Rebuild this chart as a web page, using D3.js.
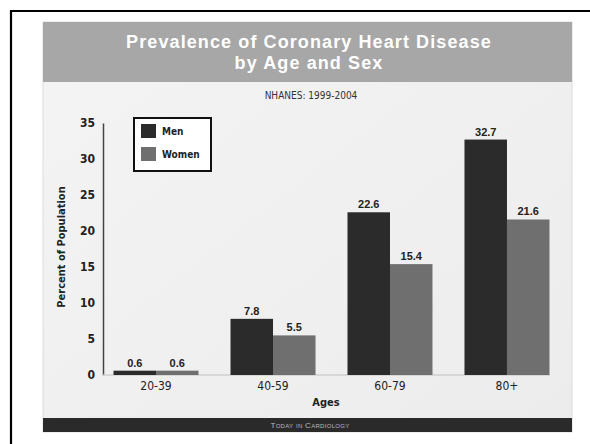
<!DOCTYPE html>
<html><head><meta charset="utf-8">
<script src="https://cdn.jsdelivr.net/npm/d3@7"></script>
<style>body{margin:0;background:#fff}svg{display:block}
.n{font-family:'Liberation Sans Narrow','DejaVu Sans Condensed','DejaVu Sans',sans-serif;font-stretch:condensed}</style>
</head><body>
<svg id="c" width="590" height="444"></svg>
<script>
const categories = ["20-39", "40-59", "60-79", "80+"];
const seriesNames = ["Men", "Women"];
const men = [0.6, 7.8, 22.6, 32.7];
const women = [0.6, 5.5, 15.4, 21.6];
const yTicks = [0, 5, 10, 15, 20, 25, 30, 35];
const colors = ["#2b2b2b", "#6f6f6f"];

const svg = d3.select("#c");
const sans = "'Liberation Sans',Arial,sans-serif";

// outer frame
svg.append("path").attr("d", "M11,444 V11 H590").attr("fill", "none").attr("stroke", "#000").attr("stroke-width", 2.2);

// slide background
const grad = svg.append("defs").append("linearGradient").attr("id", "bg").attr("x1", 0).attr("y1", 0).attr("x2", 1).attr("y2", 1);
grad.append("stop").attr("offset", 0).attr("stop-color", "#f4f4f4");
grad.append("stop").attr("offset", 1).attr("stop-color", "#ececec");
svg.append("rect").attr("x", 43).attr("y", 22).attr("width", 529).attr("height", 410).attr("fill", "url(#bg)").attr("stroke", "#dcdcdc").attr("stroke-width", 1);
svg.append("rect").attr("x", 43).attr("y", 22).attr("width", 529).attr("height", 60).attr("fill", "#a7a7a7");
svg.append("rect").attr("x", 43).attr("y", 418).attr("width", 529).attr("height", 14).attr("fill", "#2a2a2a");

svg.append("text").attr("x", 309).attr("y", 48).attr("text-anchor", "middle").attr("fill", "#fff")
  .attr("font-family", sans).attr("font-weight", "bold").attr("font-size", 18).attr("letter-spacing", 1.1).text("Prevalence of Coronary Heart Disease");
svg.append("text").attr("x", 309).attr("y", 69).attr("text-anchor", "middle").attr("fill", "#fff")
  .attr("font-family", sans).attr("font-weight", "bold").attr("font-size", 18).attr("letter-spacing", 1.1).text("by Age and Sex");
svg.append("text").attr("class", "n").attr("x", 311).attr("y", 99).attr("text-anchor", "middle").attr("fill", "#333")
  .attr("font-size", 10).text("NHANES: 1999-2004");
svg.append("text").attr("x", 310).attr("y", 428).attr("text-anchor", "middle").attr("fill", "#bbb")
  .attr("font-family", sans).attr("font-size", 8).attr("font-variant", "small-caps").attr("letter-spacing", 0.3).text("Today in Cardiology");

// scales
const y = d3.scaleLinear().domain([0, 35]).range([375, 123]);
const x = d3.scaleBand().domain(categories).range([103, 560]).paddingInner(0.2735).paddingOuter(0.09);
const xs = d3.scaleBand().domain(seriesNames).range([0, x.bandwidth()]);

// axes
const yAxis = d3.axisLeft(y).tickValues(yTicks).tickSize(0).tickPadding(8);
const gy = svg.append("g").attr("transform", "translate(103,0)").call(yAxis);
gy.attr("font-family", null);
gy.select(".domain").attr("stroke", "#444").attr("stroke-width", 1.5);
gy.selectAll("text").attr("class", "n").attr("font-weight", "bold").attr("font-size", 12).attr("fill", "#222");

const xAxis = d3.axisBottom(x).tickSize(0).tickPadding(6);
const gx = svg.append("g").attr("transform", "translate(0,375)").call(xAxis);
gx.attr("font-family", null);
gx.select(".domain").attr("stroke", "#cfcfcf").attr("stroke-width", 1.5).attr("d", "M103,0H550");
gx.selectAll("text").attr("class", "n").attr("font-size", 12).attr("fill", "#222");

svg.append("text").attr("class", "n").attr("x", 326).attr("y", 406).attr("text-anchor", "middle").attr("fill", "#222")
  .attr("font-weight", "bold").attr("font-size", 11).text("Ages");
svg.append("text").attr("class", "n").attr("transform", "translate(65,247) rotate(-90)").attr("text-anchor", "middle").attr("fill", "#222")
  .attr("font-weight", "bold").attr("font-size", 11).text("Percent of Population");

// bars
const data = [men, women];
data.forEach((vals, si) => {
  const g = svg.append("g");
  g.selectAll("rect").data(vals).join("rect")
    .attr("x", (d, i) => x(categories[i]) + xs(seriesNames[si]))
    .attr("y", d => y(d))
    .attr("width", xs.bandwidth())
    .attr("height", d => y(0) - y(d))
    .attr("fill", colors[si]);
  g.selectAll("text").data(vals).join("text")
    .attr("x", (d, i) => x(categories[i]) + xs(seriesNames[si]) + xs.bandwidth() / 2)
    .attr("y", d => y(d) - 4)
    .attr("text-anchor", "middle")
    .attr("font-family", sans).attr("font-weight", "bold").attr("font-size", 11).attr("fill", "#222")
    .text(d => d3.format(".1f")(d));
});

// legend
svg.append("rect").attr("x", 134).attr("y", 118).attr("width", 77).attr("height", 53).attr("fill", "#fff").attr("stroke", "#111").attr("stroke-width", 2);
seriesNames.forEach((n, i) => {
  svg.append("rect").attr("x", 141).attr("y", 124 + i * 23).attr("width", 15).attr("height", 14).attr("fill", colors[i]);
  svg.append("text").attr("class", "n").attr("x", 162).attr("y", 135 + i * 23).attr("font-weight", "bold").attr("font-size", 10).attr("fill", "#222").text(n);
});
</script>
</body></html>
